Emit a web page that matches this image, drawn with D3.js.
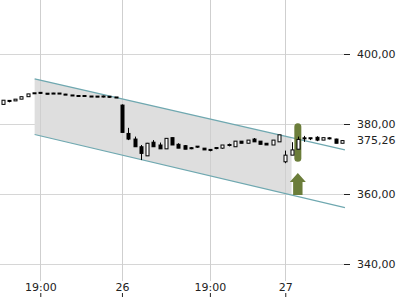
<!DOCTYPE html>
<html>
<head>
<meta charset="utf-8">
<script src="https://cdn.jsdelivr.net/npm/d3@7"></script>
<style>
  body { margin: 0; background: #fff; }
  svg text { font-family: "DejaVu Sans", sans-serif; font-size: 11px; fill: #222; }
</style>
</head>
<body>
<div id="chart"></div>
<script>
// candle data (one entry per period)
const open  = [385.6,386.7,386.6,387.1,387.8,388.75,388.9,388.8,388.8,388.8,388.5,388.2,388.1,388.1,387.9,387.95,387.85,387.8,387.6,
               385.4,377.3,375.7,373.5,370.9,374.8,374.0,372.9,376.1,374.2,373.8,373.1,373.55,373.1,372.6,373.15,373.1,374.0,373.5,375.1,
               374.5,375.7,375.1,374.5,374.0,374.9,369.2,371.1,372.8,375.9,375.95,376.2,375.4,375.9,375.7,374.5];
const high  = [386.8,386.8,387.1,387.8,388.6,388.8,389.1,388.8,388.9,388.8,388.6,388.2,388.2,388.1,388.0,388.0,388.1,387.8,387.6,
               385.6,378.9,376.4,374.0,374.6,375.4,374.7,375.9,376.1,374.5,374.0,373.4,373.6,373.1,372.8,373.2,374.0,374.4,375.1,375.1,
               375.4,376.0,375.1,374.5,375.4,376.9,372.4,374.8,376.4,376.6,375.95,376.5,376.1,376.2,375.8,375.4];
const low   = [385.6,386.2,386.6,387.1,387.8,388.7,388.7,388.5,388.6,388.6,388.3,388.0,387.9,387.9,387.8,387.7,387.6,387.5,387.55,
               377.6,375.4,373.5,369.7,370.9,373.5,372.9,372.9,374.0,373.1,372.8,372.8,373.2,372.6,372.2,372.8,372.9,373.6,373.5,374.5,
               374.5,374.9,374.2,374.0,374.0,374.9,368.8,371.1,372.8,374.9,375.4,375.1,375.4,375.6,374.5,374.5];
const close = [386.8,386.5,387.1,387.8,388.6,388.8,388.9,388.5,388.6,388.6,388.3,388.1,387.9,387.9,387.8,387.7,387.85,387.75,387.55,
               377.6,375.7,373.5,371.6,374.5,373.5,372.9,375.9,374.0,373.1,372.8,373.05,373.5,372.6,372.6,373.1,374.0,374.0,375.1,374.5,
               375.4,374.9,374.2,374.0,375.4,376.9,371.1,372.6,375.6,375.9,375.9,375.4,376.1,375.9,374.5,375.26];

// axis labels
const xTickIdx = [6, 19, 33, 45];
const xTickLabels = ["19:00", "26", "19:00", "27"];
const yTicks = [340, 360, 380, 400];

// trend channel (index, price) end points
const channelIdx = [5.1, 54.5];
const channelTop = [392.9, 372.6];
const channelBottom = [377.0, 356.1];
const channelFillEnd = 46;

// signal marker
const signalIdx = 47;
const signalRange = [369.2, 380.2];
const arrowPrices = [366.0, 363.4, 359.7]; // tip, head base, shaft bottom

const W = 400, H = 300;
const svg = d3.select("#chart").append("svg").attr("width", W).attr("height", H);

const x = d3.scaleLinear().domain([0, 54]).range([2.6, 341.8]);
const y = d3.scaleLinear().domain([340, 400]).range([264, 54]);
const plotRight = 344;

// gridlines
svg.append("g").selectAll("line").data(yTicks).join("line")
  .attr("x1", 0).attr("x2", plotRight)
  .attr("y1", d => Math.round(y(d)) + 0.5).attr("y2", d => Math.round(y(d)) + 0.5)
  .attr("stroke", "#d6d6d6");

// channel fill, clipped to where it stops
svg.append("clipPath").attr("id", "fillclip").append("rect")
  .attr("x", 0).attr("y", 0).attr("width", x(channelFillEnd)).attr("height", H);

const chPoly = [
  [x(channelIdx[0]), y(channelTop[0])], [x(channelIdx[1]), y(channelTop[1])],
  [x(channelIdx[1]), y(channelBottom[1])], [x(channelIdx[0]), y(channelBottom[0])]
];
svg.append("polygon")
  .attr("points", chPoly.map(p => p.join(",")).join(" "))
  .attr("fill", "#dedede")
  .attr("clip-path", "url(#fillclip)");

svg.append("g").selectAll("line").data(xTickIdx).join("line")
  .attr("x1", d => Math.round(x(d)) + 0.5).attr("x2", d => Math.round(x(d)) + 0.5)
  .attr("y1", 0).attr("y2", 281)
  .attr("stroke", "#cfcfcf");

// channel lines
[channelTop, channelBottom].forEach(c => {
  svg.append("line")
    .attr("x1", x(channelIdx[0])).attr("y1", y(c[0]))
    .attr("x2", x(channelIdx[1])).attr("y2", y(c[1]))
    .attr("stroke", "#6fa8b0").attr("stroke-width", 1.2);
});

// signal pill
svg.append("rect")
  .attr("x", x(signalIdx) - 3.5).attr("width", 7)
  .attr("y", y(signalRange[1])).attr("height", y(signalRange[0]) - y(signalRange[1]))
  .attr("rx", 3.5).attr("fill", "#6b7d3a");

// candles
const candles = svg.append("g");
open.forEach((o, i) => {
  const c = close[i];
  const cx = Math.round(x(i)) + 0.5;
  candles.append("line")
    .attr("x1", cx).attr("x2", cx)
    .attr("y1", y(high[i])).attr("y2", y(low[i]))
    .attr("stroke", "#000");
  const top = y(Math.max(o, c)), bot = y(Math.min(o, c));
  const hgt = Math.max(bot - top, 1);
  candles.append("rect")
    .attr("x", cx - 1.5).attr("width", 3)
    .attr("y", (top + bot) / 2 - hgt / 2).attr("height", hgt)
    .attr("fill", c > o ? "#fff" : "#000")
    .attr("stroke", "#000").attr("stroke-width", 1);
});

// up arrow
const ax = x(signalIdx);
const aTip = y(arrowPrices[0]), aBase = y(arrowPrices[1]), aBot = y(arrowPrices[2]);
svg.append("polygon")
  .attr("points", [
    [ax, aTip], [ax + 8, aBase], [ax + 4.7, aBase], [ax + 4.7, aBot],
    [ax - 4.7, aBot], [ax - 4.7, aBase], [ax - 8, aBase]
  ].map(p => p.join(",")).join(" "))
  .attr("fill", "#6b7d3a");

// right y axis
const yAxis = svg.append("g")
  .attr("transform", `translate(${plotRight},0)`)
  .call(d3.axisRight(y).tickValues(yTicks).tickSize(6).tickPadding(7)
    .tickFormat(d => d3.format(".2f")(d).replace(".", ",")));
yAxis.select(".domain").remove();
yAxis.selectAll(".tick line").attr("stroke", "#222");
yAxis.selectAll("text").attr("font-size", 11).attr("font-family", "DejaVu Sans");

svg.append("text")
  .attr("x", plotRight + 13).attr("y", y(close[close.length - 1]))
  .attr("dy", "0.32em")
  .text(d3.format(".2f")(close[close.length - 1]).replace(".", ","));

// bottom time axis (labels above their ticks)
const xAxis = svg.append("g")
  .attr("transform", "translate(0,297)")
  .call(d3.axisTop(x).tickValues(xTickIdx).tickSize(4).tickSizeOuter(0).tickPadding(2)
    .tickFormat((d, i) => xTickLabels[i]));
xAxis.select(".domain").remove();
xAxis.selectAll(".tick line").attr("stroke", "#222");
xAxis.selectAll("text").attr("font-size", 11).attr("font-family", "DejaVu Sans");
</script>
</body>
</html>
